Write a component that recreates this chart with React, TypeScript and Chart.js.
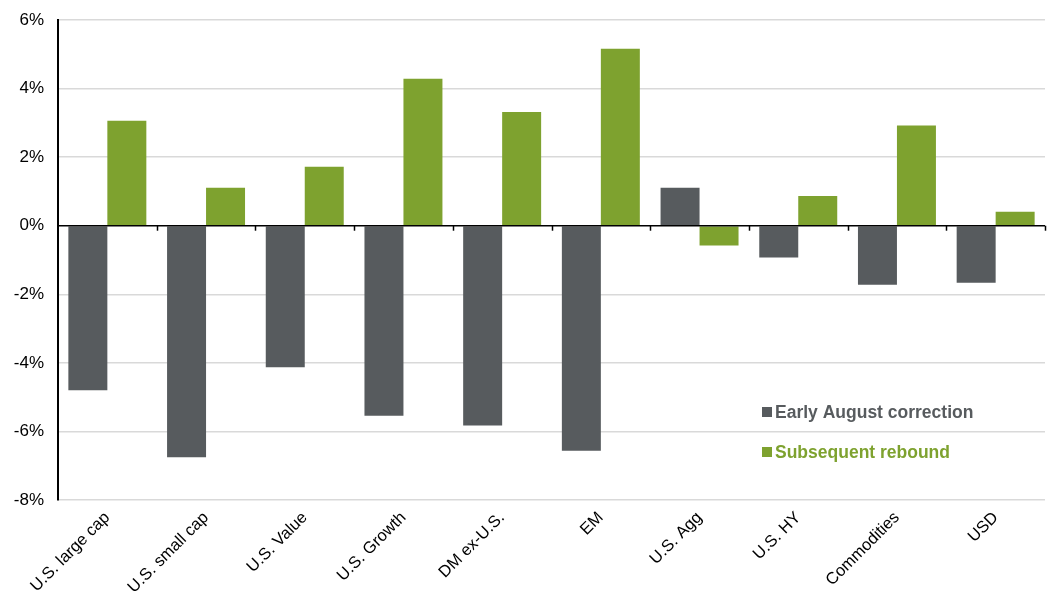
import React, { useEffect, useRef } from "react";
import { Chart, registerables } from "chart.js";

Chart.register(...registerables);

const categories = [
  "U.S. large cap",
  "U.S. small cap",
  "U.S. Value",
  "U.S. Growth",
  "DM ex-U.S.",
  "EM",
  "U.S. Agg",
  "U.S. HY",
  "Commodities",
  "USD",
];
const correction = [-4.8, -6.75, -4.13, -5.54, -5.83, -6.56, 1.11, -0.93, -1.72, -1.66];
const rebound = [3.06, 1.11, 1.72, 4.29, 3.32, 5.16, -0.58, 0.87, 2.92, 0.41];
const seriesNames = ["Early August correction", "Subsequent rebound"];
const GRAY = "#575b5e";
const GREEN = "#7ea22f";
const FONT = "'Liberation Sans', Arial, sans-serif";

const overlayPlugin = {
  id: "overlay",
  afterDatasetsDraw(chart: any) {
    const { ctx, chartArea, scales } = chart;
    const y0 = scales.y.getPixelForValue(0);
    ctx.save();
    ctx.strokeStyle = "#000";
    ctx.lineWidth = 1.5;
    ctx.beginPath();
    ctx.moveTo(chartArea.left, y0);
    ctx.lineTo(chartArea.right, y0);
    ctx.stroke();
    const n = categories.length;
    const w = (chartArea.right - chartArea.left) / n;
    for (let i = 1; i <= n; i++) {
      const x = Math.round(chartArea.left + w * i) + 0.5;
      ctx.beginPath();
      ctx.moveTo(x, y0);
      ctx.lineTo(x, y0 + 5);
      ctx.stroke();
    }
    // legend
    const lx = 762;
    const items = [
      { name: seriesNames[0], color: GRAY, y: 412 },
      { name: seriesNames[1], color: GREEN, y: 452 },
    ];
    ctx.font = `bold 17.5px ${FONT}`;
    ctx.textBaseline = "middle";
    ctx.textAlign = "left";
    for (const it of items) {
      ctx.fillStyle = it.color;
      ctx.fillRect(lx, it.y - 5, 10, 10);
      ctx.fillText(it.name, lx + 13, it.y + 1);
    }
    ctx.restore();
  },
};

export default function App() {
  const ref = useRef<HTMLCanvasElement>(null);
  useEffect(() => {
    if (!ref.current) return;
    const chart = new Chart(ref.current, {
      type: "bar",
      data: {
        labels: categories,
        datasets: [
          {
            label: seriesNames[0],
            data: correction,
            backgroundColor: GRAY,
            barPercentage: 1,
            categoryPercentage: 0.79,
          },
          {
            label: seriesNames[1],
            data: rebound,
            backgroundColor: GREEN,
            barPercentage: 1,
            categoryPercentage: 0.79,
          },
        ],
      },
      options: {
        responsive: false,
        animation: false,
        layout: { padding: { left: 0, top: 20, right: 19, bottom: 0 } },
        plugins: {
          legend: { display: false },
          tooltip: { enabled: false },
        },
        scales: {
          x: {
            grid: { display: false },
            border: { display: false },
            ticks: {
              minRotation: 45,
              maxRotation: 45,
              color: "#000",
              padding: 0,
              font: { family: FONT, size: 16.5 },
            },
            afterFit(scale: any) {
              scale.height = 111;
              scale.paddingLeft = 0;
              scale.paddingRight = 0;
            },
          },
          y: {
            min: -8,
            max: 6,
            grid: {
              color: (c: any) => (c.tick && c.tick.value === 0 ? "rgba(0,0,0,0)" : "#d9d9d9"),
              lineWidth: 1.5,
              drawTicks: false,
            },
            border: { display: true, color: "#000", width: 2 },
            ticks: {
              stepSize: 2,
              color: "#000",
              padding: 14,
              font: { family: FONT, size: 17 },
              callback: (v: any) => `${v}%`,
            },
            afterFit(scale: any) {
              scale.width = 58;
              scale.paddingTop = 0;
              scale.paddingBottom = 0;
            },
          },
        },
      },
      plugins: [overlayPlugin],
    });
    return () => chart.destroy();
  }, []);
  return (
    <div style={{ position: "fixed", left: 0, top: 0, width: 1064, height: 611, background: "#fff" }}>
      <canvas ref={ref} width={1064} height={611} />
    </div>
  );
}
